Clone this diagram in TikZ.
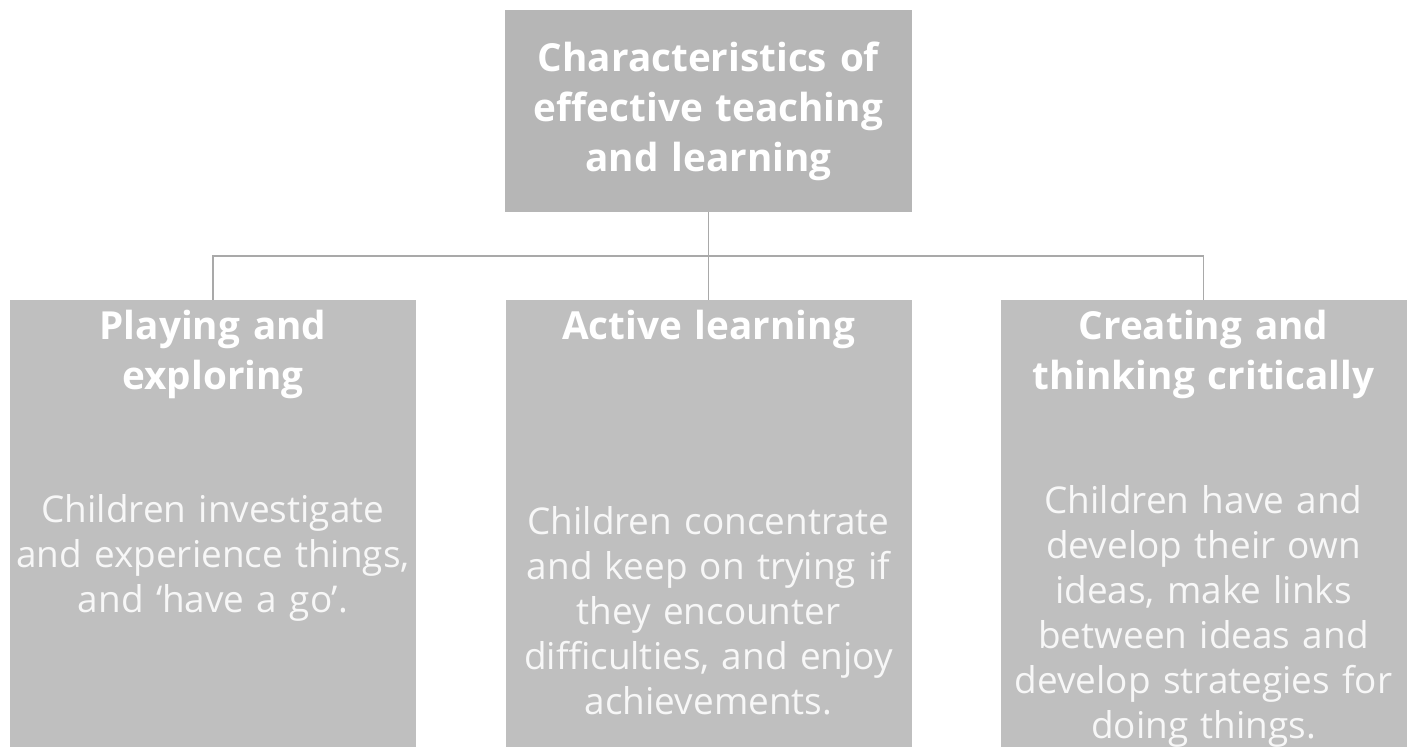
\documentclass[tikz,border=0pt]{standalone}
\usepackage{fontspec}
\setmainfont{Open Sans}
\usetikzlibrary{positioning, calc}
\definecolor{headgrey}{HTML}{B6B6B6}
\definecolor{panelgrey}{HTML}{BFBFBF}
\definecolor{linkgrey}{HTML}{A9A9A9}
\definecolor{softwhite}{HTML}{F7F7F7}
\tikzset{
  headbox/.style={rectangle, fill=headgrey, draw=none, minimum width=8.14cm,
                  minimum height=4.04cm, text width=7.6cm, align=center, text=white,
                  font=\fontsize{22}{28.5}\selectfont\bfseries},
  panel/.style={rectangle, fill=panelgrey, draw=none, minimum width=8.12cm,
                minimum height=8.94cm, inner sep=0pt},
  ptitle/.style={text width=7.8cm, align=center, text=white, inner sep=0pt,
                 font=\fontsize{22}{28.5}\selectfont\bfseries},
  pbody/.style={text width=8cm, align=center, text=softwhite, inner sep=0pt,
                font=\fontsize{21}{25.6}\selectfont},
  link/.style={draw=linkgrey, line width=1.1pt},
}

\begin{document}
\begin{tikzpicture}
  \useasboundingbox (0,0) rectangle (28.28,-14.94);
  % heading
  \node[headbox] (cetl) at (14.17,-2.22)
    {Characteristics of\\effective teaching\\and learning};
  % the three panels
  \node[panel] (play) at (4.26,-10.47) {};
  \node[panel] (active) at (14.17,-10.47) {};
  \node[panel] (create) at (24.07,-10.47) {};
  \node[ptitle, below=0.2cm of play.north] (playT) {Playing and\\exploring};
  \node[ptitle, below=0.2cm of active.north] (activeT) {Active learning};
  \node[ptitle, below=0.2cm of create.north] (createT) {Creating and\\thinking critically};
  \node[pbody] (playB) at (4.26,-11.16)
    {Children investigate\\and experience things,\\and `have a go'.};
  \node[pbody] (activeB) at (14.17,-12.22)
    {Children concentrate\\and keep on trying if\\they encounter\\difficulties, and enjoy\\achievements.};
  \node[pbody] (createB) at (24.07,-12.32)
    {Children have and\\develop their own\\ideas, make links\\between ideas and\\develop strategies for\\doing things.};
  % connectors
  \coordinate (junction) at (14.17,-5.12);
  \draw[link] (cetl.south) -- (junction);
  \draw[link] (junction) -| (play.north);
  \draw[link] (junction) -| (create.north);
  \draw[link] (junction) -- (active.north);
\end{tikzpicture}
\end{document}
